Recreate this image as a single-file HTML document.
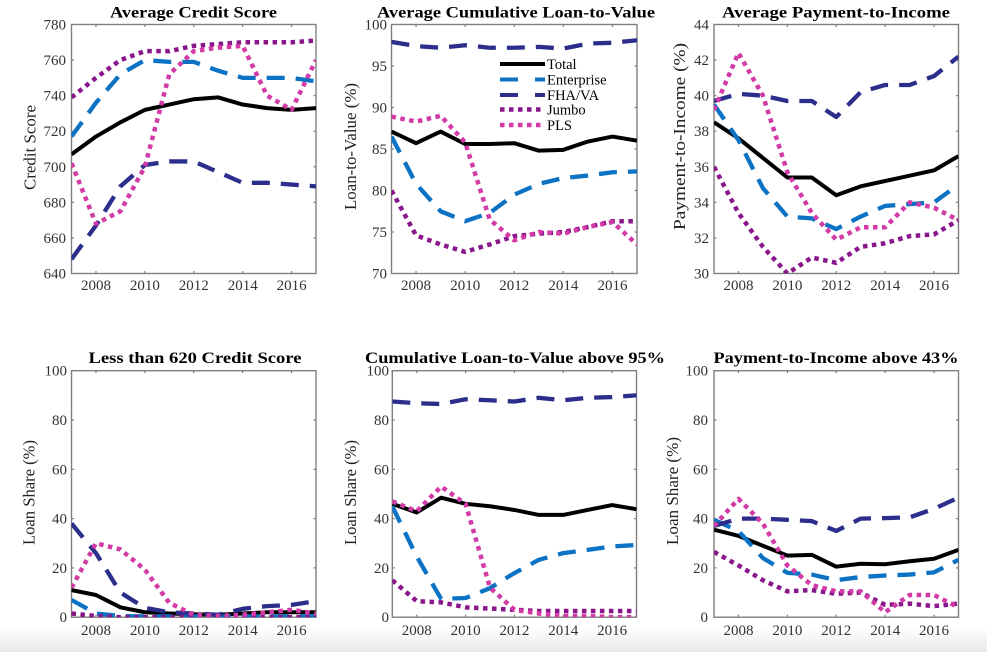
<!DOCTYPE html>
<html><head><meta charset="utf-8">
<style>
html,body{margin:0;padding:0;background:#fff;}
body{width:987px;height:652px;overflow:hidden;position:relative;}
svg{position:absolute;left:0;top:0;}
.tt{font-family:"Liberation Serif",serif;font-weight:bold;font-size:16px;fill:#000;}
.tk{font-family:"Liberation Serif",serif;font-size:15px;fill:#333;}
.yl{font-family:"Liberation Serif",serif;font-size:17px;fill:#222;}
.lg{font-family:"Liberation Serif",serif;font-size:14.5px;fill:#000;}
</style></head>
<body>
<svg id="c" width="987" height="652" viewBox="0 0 987 652" xmlns="http://www.w3.org/2000/svg">
<defs>
<linearGradient id="shade" x1="0" y1="0" x2="0" y2="1">
<stop offset="0" stop-color="#ffffff"/><stop offset="1" stop-color="#e9e9e9"/>
</linearGradient>
</defs>
<rect x="0" y="628" width="987" height="24" fill="url(#shade)"/>
<g id="axes"></g>
<g id="lines"></g>

<!-- Titles -->
<text class="tt" x="193.5" y="17.5" text-anchor="middle" textLength="167" lengthAdjust="spacingAndGlyphs">Average Credit Score</text>
<text class="tt" x="516" y="17.5" text-anchor="middle" textLength="278" lengthAdjust="spacingAndGlyphs">Average Cumulative Loan-to-Value</text>
<text class="tt" x="836" y="17.5" text-anchor="middle" textLength="228" lengthAdjust="spacingAndGlyphs">Average Payment-to-Income</text>
<text class="tt" x="195" y="363" text-anchor="middle" textLength="213" lengthAdjust="spacingAndGlyphs">Less than 620 Credit Score</text>
<text class="tt" x="515" y="363" text-anchor="middle" textLength="300" lengthAdjust="spacingAndGlyphs">Cumulative Loan-to-Value above 95%</text>
<text class="tt" x="836" y="363" text-anchor="middle" textLength="245" lengthAdjust="spacingAndGlyphs">Payment-to-Income above 43%</text>

<!-- Y labels -->
<text class="yl" transform="translate(35.5,147.5) rotate(-90)" text-anchor="middle" textLength="85" lengthAdjust="spacingAndGlyphs">Credit Score</text>
<text class="yl" transform="translate(356,146.5) rotate(-90)" text-anchor="middle" textLength="127" lengthAdjust="spacingAndGlyphs">Loan-to-Value (%)</text>
<text class="yl" transform="translate(685,136.5) rotate(-90)" text-anchor="middle" textLength="187" lengthAdjust="spacingAndGlyphs">Payment-to-Income (%)</text>
<text class="yl" transform="translate(34.5,492.5) rotate(-90)" text-anchor="middle" textLength="105" lengthAdjust="spacingAndGlyphs">Loan Share (%)</text>
<text class="yl" transform="translate(356,492.5) rotate(-90)" text-anchor="middle" textLength="105" lengthAdjust="spacingAndGlyphs">Loan Share (%)</text>
<text class="yl" transform="translate(678,491) rotate(-90)" text-anchor="middle" textLength="108" lengthAdjust="spacingAndGlyphs">Loan Share (%)</text>

<!-- Y tick labels P1 -->
<g class="tk" text-anchor="end">
<text x="66" y="29.5">780</text><text x="66" y="65.1">760</text><text x="66" y="100.6">740</text><text x="66" y="136.2">720</text>
<text x="66" y="171.8">700</text><text x="66" y="207.4">680</text><text x="66" y="242.9">660</text><text x="66" y="278.5">640</text>
<!-- P2 -->
<text x="387" y="29.5">100</text><text x="387" y="71">95</text><text x="387" y="112.5">90</text><text x="387" y="154">85</text>
<text x="387" y="195.5">80</text><text x="387" y="237">75</text><text x="387" y="278.5">70</text>
<!-- P3 -->
<text x="709" y="29.5">44</text><text x="709" y="65.1">42</text><text x="709" y="100.6">40</text><text x="709" y="136.2">38</text>
<text x="709" y="171.8">36</text><text x="709" y="207.4">34</text><text x="709" y="242.9">32</text><text x="709" y="278.5">30</text>
<!-- P4 -->
<text x="67" y="375.7">100</text><text x="67" y="425">80</text><text x="67" y="474.3">60</text><text x="67" y="523.6">40</text><text x="67" y="572.9">20</text><text x="67" y="622.2">0</text>
<!-- P5 -->
<text x="389" y="375.7">100</text><text x="389" y="425">80</text><text x="389" y="474.3">60</text><text x="389" y="523.6">40</text><text x="389" y="572.9">20</text><text x="389" y="622.2">0</text>
<!-- P6 -->
<text x="708" y="375.7">100</text><text x="708" y="425">80</text><text x="708" y="474.3">60</text><text x="708" y="523.6">40</text><text x="708" y="572.9">20</text><text x="708" y="622.2">0</text>
</g>

<!-- X tick labels -->
<g class="tk" text-anchor="middle">
<text x="96" y="290">2008</text><text x="144.9" y="290">2010</text><text x="193.8" y="290">2012</text><text x="242.7" y="290">2014</text><text x="291.6" y="290">2016</text>
<text x="416" y="290">2008</text><text x="465.2" y="290">2010</text><text x="514.3" y="290">2012</text><text x="563.4" y="290">2014</text><text x="612.5" y="290">2016</text>
<text x="738.5" y="290">2008</text><text x="787.4" y="290">2010</text><text x="836.3" y="290">2012</text><text x="885.2" y="290">2014</text><text x="934" y="290">2016</text>
<text x="96" y="635">2008</text><text x="144.9" y="635">2010</text><text x="193.8" y="635">2012</text><text x="242.7" y="635">2014</text><text x="291.6" y="635">2016</text>
<text x="416.7" y="635">2008</text><text x="465.6" y="635">2010</text><text x="514.4" y="635">2012</text><text x="563.2" y="635">2014</text><text x="612.1" y="635">2016</text>
<text x="738.5" y="635">2008</text><text x="787.4" y="635">2010</text><text x="836.3" y="635">2012</text><text x="885.2" y="635">2014</text><text x="934" y="635">2016</text>
</g>

<!-- Legend -->
<g id="legend">
<line x1="500" y1="64" x2="545" y2="64" stroke="#000" stroke-width="4"/>
<line x1="500" y1="79.5" x2="545" y2="79.5" stroke="#0b72c4" stroke-width="4" stroke-dasharray="18 17"/>
<line x1="500" y1="95" x2="545" y2="95" stroke="#2c2e8c" stroke-width="4" stroke-dasharray="18 17"/>
<line x1="500" y1="109.5" x2="545" y2="109.5" stroke="#8a168c" stroke-width="4.5" stroke-dasharray="4.5 4.5"/>
<line x1="500" y1="125" x2="545" y2="125" stroke="#d23aa6" stroke-width="4.5" stroke-dasharray="4.5 4.5"/>
<text class="lg" x="547" y="69">Total</text>
<text class="lg" x="547" y="84.5">Enterprise</text>
<text class="lg" x="547" y="100">FHA/VA</text>
<text class="lg" x="547" y="114.5">Jumbo</text>
<text class="lg" x="547" y="130">PLS</text>
</g>
</svg>
<script>
(function(){
var NS="http://www.w3.org/2000/svg";
var svg=document.getElementById('c');
var defs=svg.querySelector('defs');
var gA=document.getElementById('axes');
var gL=document.getElementById('lines');
function el(tag,a,p){var e=document.createElementNS(NS,tag);for(var k in a)e.setAttribute(k,a[k]);p.appendChild(e);return e;}
var S={
 T:{c:'#000000',w:4,d:null},
 E:{c:'#0b72c4',w:4.3,d:'18 11'},
 F:{c:'#2c2e8c',w:4.3,d:'18 11'},
 J:{c:'#8a168c',w:4.5,d:'4.5 4.5'},
 P:{c:'#d23aa6',w:4.5,d:'4.5 4.5'}
};
var panels=[
{l:71.5,r:316,t:24.5,b:273.5,ymin:640,ymax:780,step:20,
 T:[707,717,725,732,735,738,739,735,733,732,733],
 E:[717,736,752,760,759,759,754,750,750,750,748],
 F:[648,667,689,701,703,703,697,691,691,690,689],
 J:[739,750,760,765,765,768,769,770,770,770,771],
 P:[702,668,675,700,752,765,767,768,740,732,760]},
{l:391.5,r:637,t:24.5,b:273.5,ymin:70,ymax:100,step:5,
 T:[87.1,85.7,87.1,85.6,85.6,85.7,84.8,84.9,85.9,86.5,86.0],
 E:[86.5,80.8,77.5,76.3,77.3,79.5,80.8,81.5,81.8,82.2,82.3],
 F:[97.9,97.4,97.2,97.5,97.2,97.2,97.3,97.1,97.7,97.8,98.1],
 J:[80,74.6,73.5,72.6,73.5,74.5,74.8,75,75.6,76.3,76.3],
 P:[88.9,88.3,89.0,85.8,76.5,74,75,74.8,75.6,76.2,73.5]},
{l:714,r:958.5,t:24.5,b:273.5,ymin:30,ymax:44,step:2,
 T:[38.5,37.6,36.5,35.4,35.4,34.4,34.9,35.2,35.5,35.8,36.6],
 E:[39.5,37.5,34.8,33.2,33.1,32.5,33.2,33.8,33.9,34.0,35.0],
 F:[39.7,40.1,40.0,39.7,39.7,38.8,40.2,40.6,40.6,41.1,42.2],
 J:[36,33.4,31.5,30.0,30.9,30.6,31.5,31.7,32.1,32.2,33],
 P:[39.2,42.4,40.0,35.7,33.4,31.9,32.6,32.6,34.0,33.7,33.0]},
{l:71.5,r:316,t:370.7,b:617.2,ymin:0,ymax:100,step:20,
 T:[11,9,4,2,1.5,1.2,1,1.5,2,2,2],
 E:[7,1.5,0.5,0.3,0.3,0.3,0.3,0.3,0.3,0.3,0.3],
 F:[38,26,10,3.8,2,1.5,1,3.4,4.5,5,6.5],
 J:[1.5,0.5,0,0,0,0,0,0,0,0,0],
 P:[12,30,27.5,19.3,5.8,1,0.5,1,2,3,1.5]},
{l:392.3,r:636.5,t:370.7,b:617.2,ymin:0,ymax:100,step:20,
 T:[46,42.5,48.5,46,45,43.5,41.5,41.5,43.5,45.5,43.8],
 E:[45,24.6,7.4,7.8,11.8,17.9,23.3,26,27.3,28.7,29.3],
 F:[87.5,86.8,86.5,88.4,88,87.5,89,88,89,89.3,90],
 J:[15,6.5,6,4,3.5,3,2.5,2.5,2.5,2.5,2.5],
 P:[47,43,53,46,12,3,1.5,0.5,0.5,0,0]},
{l:714,r:958.5,t:370.7,b:617.2,ymin:0,ymax:100,step:20,
 T:[35.5,33,29,25,25.3,20.5,21.7,21.5,22.7,23.7,27.3],
 E:[39.5,35,24,18,17.3,15,16.3,16.9,17.3,18.2,23.3],
 F:[37,40,40,39.5,39,35,40,40.2,40.5,44,48.5],
 J:[26.5,21,15,10.5,11,9.5,10,5,5.5,4.5,5.5],
 P:[37,48,38,21,13,10.5,10.5,2,9,9,4]}
];
var axc='#7f7f7f';
panels.forEach(function(p,i){
 var X=function(k){return p.l+k/10*(p.r-p.l);};
 var Y=function(v){return p.b-(v-p.ymin)/(p.ymax-p.ymin)*(p.b-p.t);};
 var cp=el('clipPath',{id:'cp'+i},defs);
 el('rect',{x:p.l,y:p.t,width:p.r-p.l,height:p.b-p.t},cp);
 el('rect',{x:p.l,y:p.t,width:p.r-p.l,height:p.b-p.t,fill:'none',stroke:axc,'stroke-width':1.4},gA);
 for(var k=1;k<10;k+=2){var x=X(k);
  el('line',{x1:x,y1:p.b,x2:x,y2:p.b-2.5,stroke:axc,'stroke-width':1.2},gA);
  el('line',{x1:x,y1:p.t,x2:x,y2:p.t+2.5,stroke:axc,'stroke-width':1.2},gA);}
 for(var v=p.ymin+p.step;v<p.ymax;v+=p.step){var y=Y(v);
  el('line',{x1:p.l,y1:y,x2:p.l+2.5,y2:y,stroke:axc,'stroke-width':1.2},gA);
  el('line',{x1:p.r,y1:y,x2:p.r-2.5,y2:y,stroke:axc,'stroke-width':1.2},gA);}
 var g=el('g',{'clip-path':'url(#cp'+i+')'},gL);
 ['T','E','F','J','P'].forEach(function(s){
  var d='';p[s].forEach(function(v,k){d+=(k?'L':'M')+X(k).toFixed(2)+' '+Y(v).toFixed(2);});
  var a={d:d,fill:'none',stroke:S[s].c,'stroke-width':S[s].w,'stroke-linejoin':'round'};
  if(S[s].d)a['stroke-dasharray']=S[s].d;
  el('path',a,g);
 });
});
})();
</script>
</body></html>
